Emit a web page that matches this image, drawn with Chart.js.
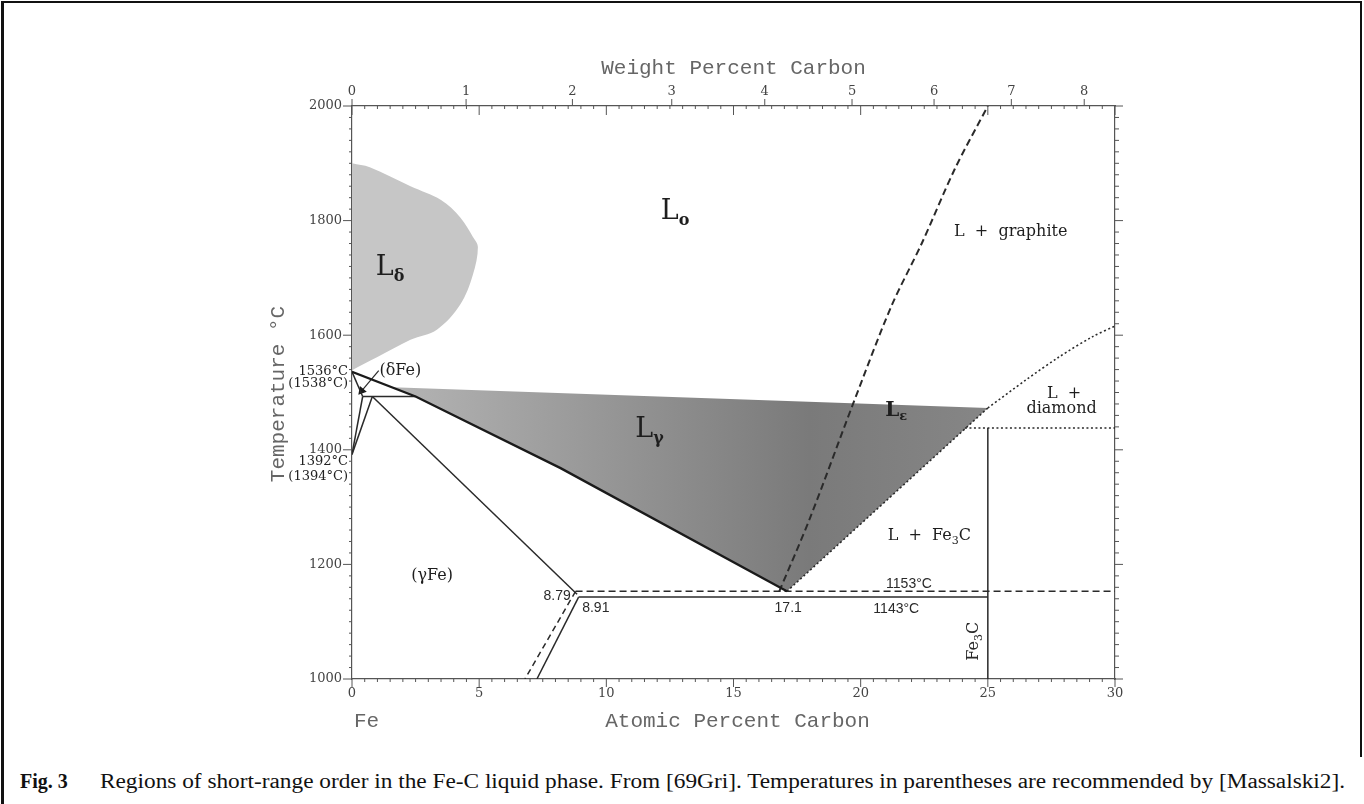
<!DOCTYPE html>
<html>
<head>
<meta charset="utf-8">
<title>Fe-C liquid phase</title>
<script src="https://cdn.jsdelivr.net/npm/chart.js@4.4.1/dist/chart.umd.min.js"></script>
<style>
    html, body { margin: 0; padding: 0; background: #fff; }
    #wrap { position: absolute; left: 0; top: 0; width: 1364px; height: 760px; }
    .rule { position: absolute; background: #111; }
    #caption { position: absolute; left: 20px; top: 770px; font-family: "Liberation Serif", serif; font-size: 20px; color: #111; white-space: nowrap; }
    #capText { position: absolute; left: 80px; top: 0; transform-origin: 0 0; }
</style>
</head>
<body>
<div class="rule" style="left:1px;top:1px;width:3px;height:803px"></div>
<div class="rule" style="left:1px;top:1px;width:1361px;height:2px"></div>
<div class="rule" style="left:1360px;top:1px;width:2px;height:756px"></div>
<div id="wrap"><canvas id="feCChart" width="1364" height="760"></canvas></div>
<div id="caption"><b>Fig. 3</b><span id="capText">Regions of short-range order in the Fe-C liquid phase. From [69Gri]. Temperatures in parentheses are recommended by [Massalski2].</span></div>
<script>
// weight % C -> atomic % C
const wtToAt = w => (w / 12.011) / (w / 12.011 + (100 - w) / 55.845) * 100;

const atTicks = [0, 5, 10, 15, 20, 25, 30];
const tempTicks = [1000, 1200, 1400, 1600, 1800, 2000];
const wtTicks = [0, 1, 2, 3, 4, 5, 6, 7, 8];

// all points are [atomic % C, temperature °C]
const deltaRegion = [[0, 1900], [0.7, 1893], [2.3, 1860], [3.5, 1836], [4.25, 1806], [4.75, 1772], [4.95, 1754],
    [4.75, 1705], [4.25, 1653], [3.35, 1610], [2.3, 1592], [1.0, 1562], [0, 1539]];
const gammaRegion = [[1.6, 1509], [2.5, 1493], [8.2, 1368], [17.1, 1153], [25.0, 1473]];

const liquidus = [[0, 1536], [2.5, 1493], [8.2, 1368], [17.1, 1153]];
const deltaSolidus = [[0, 1536], [0.42, 1493]];
const deltaSolvus = [[0, 1392], [0.42, 1493]];
const gammaDelta = [[0, 1392], [0.8, 1493]];
const peritectic = [[0.42, 1493], [2.5, 1493]];
const gammaSolidus = [[0.8, 1493], [8.85, 1148]];
const eutecticFe3C = [[8.91, 1143], [25, 1143]];
const eutecticGraphite = [[8.79, 1153], [30, 1153]];
const solvusFe3C = [[8.91, 1143], [7.27, 1000]];
const solvusGraphite = [[8.79, 1153], [6.8, 1000]];
const fe3cLine = [[25, 1438], [25, 1000]];
const graphiteLiquidus = [[16.8, 1153], [18.0, 1280], [19.7, 1480], [21.2, 1650], [22.4, 1760], [23.7, 1890], [25.0, 2000]];
const epsilonEdge = [[17.1, 1153], [25.0, 1473]];
const diamondLiquidus = [[25.0, 1473], [26.5, 1522], [27.8, 1562], [29.1, 1597], [30, 1616]];
const diamondLine = [[24.1, 1438], [30, 1438]];
const deltaArrow = [[1.05, 1538], [0.38, 1503]];

const phaseLabels = [
    { parts: [['L', 0], ['δ', 1]], at: 1.5, temp: 1718, kind: 'big' },
    { parts: [['L', 0], ['o', 1]], at: 12.7, temp: 1815, kind: 'big' },
    { parts: [['L', 0], ['γ', 1]], at: 11.7, temp: 1435, kind: 'big' },
    { parts: [['L', 0], ['ε', 1]], at: 21.4, temp: 1468, kind: 'mid' },
    { parts: [['L  +  graphite', 0]], at: 25.9, temp: 1780, kind: 'phase' },
    { parts: [['L  +', 0]], at: 28.0, temp: 1497, kind: 'phase' },
    { parts: [['diamond', 0]], at: 27.9, temp: 1471, kind: 'phase' },
    { parts: [['L  +  Fe', 0], ['3', 1], ['C', 0]], at: 22.7, temp: 1250, kind: 'phase' },
    { parts: [['(γFe)', 0]], at: 3.15, temp: 1180, kind: 'phase' },
    { parts: [['(δFe)', 0]], at: 1.9, temp: 1537, kind: 'phase' }
];
const numLabels = [
    { text: '8.79', at: 8.6, temp: 1145, align: 'right' },
    { text: '8.91', at: 9.05, temp: 1124, align: 'left' },
    { text: '17.1', at: 17.15, temp: 1124, align: 'center' },
    { text: '1153°C', at: 21.9, temp: 1166, align: 'center' },
    { text: '1143°C', at: 21.4, temp: 1122, align: 'center' }
];
const sideLabels = [
    { text: '1536°C', temp: 1536 },
    { text: '(1538°C)', temp: 1515 },
    { text: '1392°C', temp: 1380 },
    { text: '(1394°C)', temp: 1354 }
];

const pts = arr => arr.map(p => ({ x: p[0], y: p[1] }));

function line(data, opts) {
    return Object.assign({
        data: pts(data), showLine: true, fill: false, pointRadius: 0,
        borderColor: '#2a2a2a', borderWidth: 1.5, tension: 0, order: 0
    }, opts || {});
}

function gammaFill(context) {
    const chart = context.chart;
    if (!chart.chartArea) return '#888';
    const x = chart.scales.x;
    const g = chart.ctx.createLinearGradient(x.getPixelForValue(1.6), 0, x.getPixelForValue(25), 0);
    g.addColorStop(0, '#b4b4b4');
    g.addColorStop(0.35, '#979797');
    g.addColorStop(0.7, '#7a7a7a');
    g.addColorStop(1, '#868686');
    return g;
}

const tickMarks = {
    id: 'tickMarks',
    afterDraw(chart) {
        const { ctx, chartArea: a, scales } = chart;
        ctx.save();
        ctx.strokeStyle = '#555';
        ctx.lineWidth = 1;
        const seg = (x1, y1, x2, y2) => { ctx.beginPath(); ctx.moveTo(x1, y1); ctx.lineTo(x2, y2); ctx.stroke(); };
        for (let i = 0; i <= 60; i++) {
            const px = scales.x.getPixelForValue(i / 2);
            const major = i % 10 === 0;
            seg(px, a.bottom, px, a.bottom + (major ? 8 : 3));
            seg(px, a.top, px, a.top + (major ? 9 : 3));
        }
        wtTicks.forEach(w => {
            const px = scales.x2.getPixelForValue(wtToAt(w));
            seg(px, a.top, px, a.top - 7);
        });
        for (let t = 1000; t <= 2000; t += 20) {
            const py = scales.y.getPixelForValue(t);
            const major = t % 200 === 0;
            seg(a.left, py, a.left - (major ? 9 : 3), py);
            seg(a.right, py, a.right + (major ? 8 : 4), py);
        }
        ctx.restore();
    }
};

const textLayer = {
    id: 'textLayer',
    afterDatasetsDraw(chart) {
        const { ctx, chartArea: a, scales } = chart;
        const sx = scales.x, sy = scales.y;
        ctx.save();
        ctx.textBaseline = 'middle';
        ctx.fillStyle = '#1e1e1e';

        const fonts = {
            big: ['27px "DejaVu Serif"', 'bold 16px "DejaVu Serif"', 9],
            mid: ['bold 20px "DejaVu Serif"', 'bold 13px "DejaVu Serif"', 6],
            phase: ['16px "DejaVu Serif"', '11px "DejaVu Serif"', 5]
        };
        phaseLabels.forEach(l => {
            const f = fonts[l.kind];
            let total = 0;
            l.parts.forEach(([t, sub]) => { ctx.font = sub ? f[1] : f[0]; total += ctx.measureText(t).width; });
            let cx = sx.getPixelForValue(l.at) - total / 2;
            const cy = sy.getPixelForValue(l.temp);
            ctx.textAlign = 'left';
            l.parts.forEach(([t, sub]) => {
                ctx.font = sub ? f[1] : f[0];
                ctx.fillText(t, cx, sub ? cy + f[2] : cy);
                cx += ctx.measureText(t).width;
            });
        });

        ctx.font = '14px "Liberation Sans"';
        ctx.fillStyle = '#2a2a2a';
        numLabels.forEach(l => {
            ctx.textAlign = l.align;
            ctx.fillText(l.text, sx.getPixelForValue(l.at), sy.getPixelForValue(l.temp));
        });

        // Fe3C composition, vertical
        ctx.save();
        ctx.translate(sx.getPixelForValue(24.45), sy.getPixelForValue(1066));
        ctx.rotate(-Math.PI / 2);
        ctx.textAlign = 'left';
        ctx.font = '16px "DejaVu Serif"';
        const w1 = ctx.measureText('Fe').width;
        ctx.font = '11px "DejaVu Serif"';
        const w2 = ctx.measureText('3').width;
        ctx.font = '16px "DejaVu Serif"';
        const w3 = ctx.measureText('C').width;
        let ox = -(w1 + w2 + w3) / 2;
        ctx.fillText('Fe', ox, 0);
        ctx.font = '11px "DejaVu Serif"';
        ctx.fillText('3', ox + w1, 5);
        ctx.font = '16px "DejaVu Serif"';
        ctx.fillText('C', ox + w1 + w2, 0);
        ctx.restore();

        ctx.font = '13px "DejaVu Serif"';
        ctx.fillStyle = '#222';
        ctx.textAlign = 'right';
        sideLabels.forEach(l => ctx.fillText(l.text, a.left - 4, sy.getPixelForValue(l.temp)));

        // axis titles
        ctx.fillStyle = '#666';
        ctx.font = '21px "Liberation Mono"';
        ctx.textAlign = 'center';
        const mid = (a.left + a.right) / 2;
        ctx.fillText('Weight Percent Carbon', mid, 68);
        ctx.fillText('Atomic Percent Carbon', mid + 4, 721);
        ctx.textAlign = 'left';
        ctx.fillText('Fe', a.left + 2, 721);
        ctx.save();
        ctx.translate(278, 394);
        ctx.rotate(-Math.PI / 2);
        ctx.textAlign = 'center';
        ctx.fillText('Temperature °C', 0, 0);
        ctx.restore();
        ctx.restore();
    }
};

const axisFont = { family: 'DejaVu Serif', size: 13 };
const plainLabel = v => String(v);

new Chart(document.getElementById('feCChart'), {
    type: 'scatter',
    data: {
        datasets: [
            line(deltaRegion, { fill: 'shape', backgroundColor: '#c6c6c6', borderWidth: 0, borderColor: 'rgba(0,0,0,0)', tension: 0.35, order: 10 }),
            line(gammaRegion, { fill: 'shape', backgroundColor: gammaFill, borderWidth: 0, borderColor: 'rgba(0,0,0,0)', order: 9 }),
            line(liquidus, { borderWidth: 2.3, borderColor: '#1a1a1a' }),
            line(deltaSolidus),
            line(deltaSolvus),
            line(gammaDelta),
            line(peritectic),
            line(gammaSolidus),
            line(eutecticFe3C),
            line(eutecticGraphite, { borderDash: [7, 4] }),
            line(solvusFe3C),
            line(solvusGraphite, { borderDash: [6, 4] }),
            line(fe3cLine),
            line(graphiteLiquidus, { borderWidth: 2, borderDash: [7, 4], tension: 0.3 }),
            line(epsilonEdge, { borderWidth: 1.6, borderDash: [2, 2.5] }),
            line(diamondLiquidus, { borderWidth: 1.6, borderDash: [2, 2.5], tension: 0.3 }),
            line(diamondLine, { borderWidth: 1.6, borderDash: [2, 2.5] }),
            line(deltaArrow, {
                borderWidth: 1.2,
                pointRadius: [0, 4], pointStyle: 'triangle', pointRotation: 220,
                pointBackgroundColor: '#1a1a1a', pointBorderColor: '#1a1a1a'
            })
        ]
    },
    options: {
        responsive: false,
        animation: false,
        devicePixelRatio: 1,
        layout: { padding: 0 },
        plugins: { legend: { display: false }, tooltip: { enabled: false } },
        scales: {
            x: {
                type: 'linear', position: 'bottom', min: 0, max: 30,
                afterBuildTicks: s => { s.ticks = atTicks.map(v => ({ value: v })); },
                afterFit: s => { s.height = 760 - 679; },
                ticks: { font: axisFont, color: '#444', padding: 7, autoSkip: false, maxRotation: 0, callback: plainLabel },
                grid: { display: false, drawTicks: false },
                border: { color: '#555', width: 1.2 }
            },
            x2: {
                type: 'linear', position: 'top', min: 0, max: 30,
                afterBuildTicks: s => { s.ticks = wtTicks.map(w => ({ value: wtToAt(w) })); },
                afterFit: s => { s.height = 106; },
                ticks: { font: axisFont, color: '#444', padding: 7, autoSkip: false, maxRotation: 0,
                    callback: (v, i) => String(wtTicks[i]) },
                grid: { display: false, drawTicks: false },
                border: { color: '#555', width: 1.2 }
            },
            y: {
                type: 'linear', position: 'left', min: 1000, max: 2000,
                afterBuildTicks: s => { s.ticks = tempTicks.map(v => ({ value: v })); },
                afterFit: s => { s.width = 352; },
                ticks: { font: axisFont, color: '#444', padding: 10, callback: plainLabel },
                grid: { display: false, drawTicks: false },
                border: { color: '#555', width: 1.2 }
            },
            y2: {
                type: 'linear', position: 'right', min: 1000, max: 2000,
                afterFit: s => { s.width = 1364 - 1115; },
                ticks: { display: false },
                grid: { display: false, drawTicks: false },
                border: { color: '#555', width: 1.2 }
            }
        }
    },
    plugins: [tickMarks, textLayer]
});

// squeeze the caption to the width it takes in the print
const cap = document.getElementById('capText');
cap.style.transform = 'scaleX(' + (1245 / cap.offsetWidth) + ')';
</script>
</body>
</html>
